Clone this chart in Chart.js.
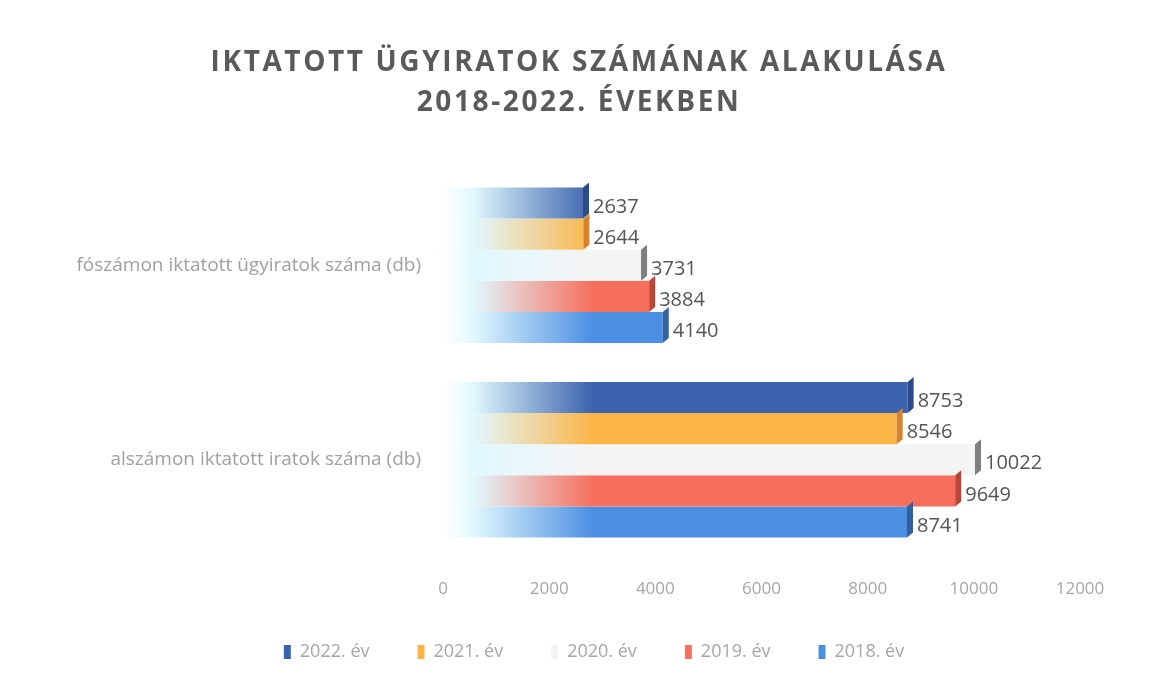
<!DOCTYPE html>
<html>
<head>
<meta charset="utf-8">
<script src="https://cdn.jsdelivr.net/npm/chart.js@4"></script>
<style>
  html, body { margin: 0; padding: 0; background: #fff; }
  #wrap { position: relative; width: 1158px; height: 679px; }
  #cim {
    position: absolute; left: 0; top: 40px; width: 1158px; text-align: center;
    font-family: "Open Sans", sans-serif; font-weight: bold; font-size: 28px;
    line-height: 40px; letter-spacing: 2.6px; color: #5a5a5a;
  }
  canvas { position: absolute; left: 0; top: 0; }
</style>
</head>
<body>
<div id="wrap">
  <canvas id="grafikon" width="1158" height="679"></canvas>
  <div id="cim">IKTATOTT ÜGYIRATOK SZÁMÁNAK ALAKULÁSA<br>2018-2022. ÉVEKBEN</div>
</div>
<script>
// kategóriák és sorozatok
const kategoriak = ['fószámon iktatott ügyiratok száma (db)', 'alszámon iktatott iratok száma (db)'];
const evek = ['2022. év', '2021. év', '2020. év', '2019. év', '2018. év'];
const ev2022 = [2637, 8753];
const ev2021 = [2644, 8546];
const ev2020 = [3731, 10022];
const ev2019 = [3884, 9649];
const ev2018 = [4140, 8741];
const xTickek = [0, 2000, 4000, 6000, 8000, 10000, 12000];

const szinek = ['#3a62ad', '#fbb546', '#f4f4f4', '#f66f5d', '#4b8fe2'];
const oldalSzinek = ['#2c4b86', '#d9822e', '#7f7f7f', '#b9463a', '#35609f'];

// színátmenet: bal oldalon kifehéredik
function gradiens(szin) {
    return function(context) {
        const chart = context.chart;
        const area = chart.chartArea;
        if (!area) return szin;
        const g = chart.ctx.createLinearGradient(area.left, 0, area.left + 150, 0);
        g.addColorStop(0, 'rgba(255,255,255,1)');
        g.addColorStop(0.2, 'rgba(225,248,255,1)');
        g.addColorStop(1, szin);
        return g;
    };
}

// 3D hatás: jobb oldali sötétebb lap
const oldalLap = {
    id: 'oldalLap',
    afterDatasetsDraw(chart) {
        const ctx = chart.ctx;
        ctx.save();
        chart.data.datasets.forEach((ds, i) => {
            chart.getDatasetMeta(i).data.forEach(bar => {
                const top = bar.y - bar.height / 2;
                const bottom = bar.y + bar.height / 2;
                ctx.fillStyle = oldalSzinek[i];
                ctx.beginPath();
                ctx.moveTo(bar.x, top);
                ctx.lineTo(bar.x + 6, top - 5);
                ctx.lineTo(bar.x + 6, bottom - 5);
                ctx.lineTo(bar.x, bottom);
                ctx.closePath();
                ctx.fill();
            });
        });
        ctx.restore();
    }
};

// értékcímkék a sávok végén
const ertekCimkek = {
    id: 'ertekCimkek',
    afterDatasetsDraw(chart) {
        const ctx = chart.ctx;
        ctx.save();
        ctx.font = '20px "Open Sans", sans-serif';
        ctx.fillStyle = '#555555';
        ctx.textAlign = 'left';
        ctx.textBaseline = 'middle';
        chart.data.datasets.forEach((ds, i) => {
            chart.getDatasetMeta(i).data.forEach((bar, j) => {
                ctx.fillText(ds.data[j], bar.x + 10, bar.y + 4);
            });
        });
        ctx.restore();
    }
};

// a jelmagyarázat kissé jobbra tolva, mint az eredetin
const jelmagyarazatEltolas = {
    id: 'jelmagyarazatEltolas',
    afterLayout(chart) {
        if (chart.legend) {
            chart.legend.left += 54;
            chart.legend.right += 54;
        }
    }
};

const sorozatok = [ev2022, ev2021, ev2020, ev2019, ev2018];

new Chart(document.getElementById('grafikon'), {
    type: 'bar',
    data: {
        labels: kategoriak,
        datasets: sorozatok.map((adat, i) => ({
            label: evek[i],
            data: adat,
            backgroundColor: gradiens(szinek[i]),
            borderWidth: 0,
            categoryPercentage: 0.8,
            barPercentage: 1.0
        }))
    },
    options: {
        indexAxis: 'y',
        responsive: false,
        animation: false,
        layout: {
            padding: { top: 168, right: 78, left: 0, bottom: 8 }
        },
        plugins: {
            title: { display: false },
            tooltip: { enabled: false },
            legend: {
                position: 'bottom',
                labels: {
                    boxWidth: 7,
                    boxHeight: 14,
                    padding: 48,
                    color: '#a6a6a6',
                    font: { family: '"Open Sans", sans-serif', size: 18 },
                    generateLabels: function(chart) {
                        const alap = Chart.defaults.plugins.legend.labels.generateLabels(chart);
                        alap.forEach((l, i) => {
                            l.fillStyle = szinek[i];
                            l.strokeStyle = szinek[i];
                            l.lineWidth = 0;
                        });
                        return alap;
                    }
                }
            }
        },
        scales: {
            x: {
                min: 0,
                max: 12000,
                afterBuildTicks: function(scale) {
                    scale.ticks = xTickek.map(v => ({ value: v }));
                },
                afterFit: function(scale) {
                    scale.height = 38;
                },
                grid: { display: false, drawTicks: false },
                border: { display: false },
                ticks: {
                    padding: 22,
                    color: '#a6a6a6',
                    font: { family: '"Open Sans", sans-serif', size: 17 },
                    callback: function(value) {
                        return String(value);
                    }
                }
            },
            y: {
                afterFit: function(scale) {
                    scale.width = 443;
                },
                grid: { display: false, drawTicks: false },
                border: { display: false },
                ticks: {
                    padding: 22,
                    color: '#a0a0a0',
                    font: { family: '"Open Sans", sans-serif', size: 19 }
                }
            }
        }
    },
    plugins: [oldalLap, ertekCimkek, jelmagyarazatEltolas]
});
</script>
</body>
</html>
